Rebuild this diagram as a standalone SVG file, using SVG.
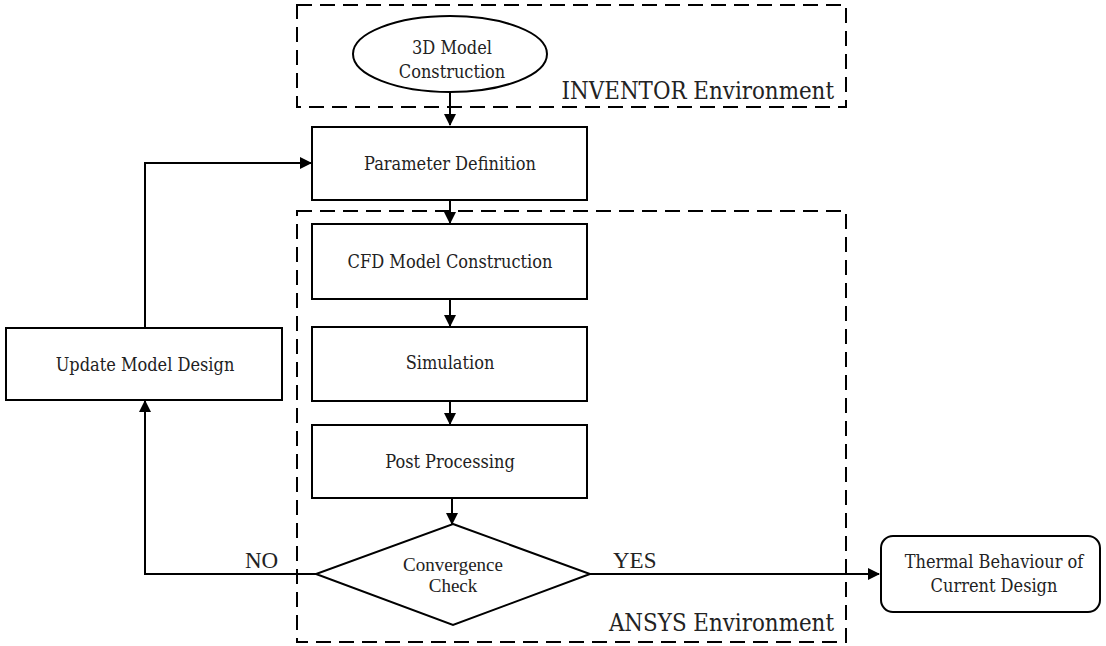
<svg xmlns="http://www.w3.org/2000/svg" width="1106" height="646" viewBox="0 0 1106 646">
<style>
.box{fill:#fff;stroke:#000;stroke-width:2}
.env{fill:none;stroke:#000;stroke-width:2;stroke-dasharray:15 8}
.lbl{font-family:"DejaVu Serif Condensed","DejaVu Serif",serif;font-size:18px;fill:#222;text-anchor:middle}
.cv{font-family:"Liberation Serif",serif;font-size:19px;fill:#222;text-anchor:middle}
.big{font-family:"DejaVu Serif Condensed","DejaVu Serif",serif;font-size:23.8px;fill:#222;text-anchor:end}
.yn{font-family:"Liberation Serif",serif;font-size:23px;fill:#222}
.cn{fill:none;stroke:#000;stroke-width:2}
</style>
<defs>
<marker id="ah" markerWidth="12" markerHeight="12" refX="11" refY="6" orient="auto" markerUnits="userSpaceOnUse">
<path d="M0,0 L12,6 L0,12 Z" fill="#000"/>
</marker>
</defs>
<rect width="1106" height="646" fill="#fff"/>
<g id="env-inventor">
<rect class="env" x="297" y="5" width="549" height="102"/>
<text class="big" x="834" y="99">INVENTOR Environment</text>
</g>
<g id="env-ansys">
<rect class="env" x="297" y="211" width="549" height="431"/>
<text class="big" x="834" y="631">ANSYS Environment</text>
</g>
<g id="connectors">
<line class="cn" x1="450" y1="92" x2="450" y2="125" marker-end="url(#ah)"/>
<line class="cn" x1="450" y1="200" x2="450" y2="223" marker-end="url(#ah)"/>
<line class="cn" x1="450" y1="299" x2="450" y2="326" marker-end="url(#ah)"/>
<line class="cn" x1="450" y1="401" x2="450" y2="424" marker-end="url(#ah)"/>
<line class="cn" x1="452" y1="498" x2="452" y2="524" marker-end="url(#ah)"/>
<polyline class="cn" points="145,328 145,163 311,163" marker-end="url(#ah)"/>
<polyline class="cn" points="316,574 145,574 145,401" marker-end="url(#ah)"/>
<line class="cn" x1="590" y1="574" x2="879" y2="574" marker-end="url(#ah)"/>
<text class="yn" x="245" y="568">NO</text>
<text class="yn" x="613" y="568">YES</text>
</g>
<g id="n-3d">
<ellipse class="box" cx="450" cy="54" rx="97" ry="38"/>
<text class="lbl" x="452" y="54">3D Model</text>
<text class="lbl" x="452" y="78">Construction</text>
</g>
<g id="n-param">
<rect class="box" x="312" y="127" width="275" height="73"/>
<text class="lbl" x="450" y="170">Parameter Definition</text>
</g>
<g id="n-cfd">
<rect class="box" x="312" y="224" width="275" height="75"/>
<text class="lbl" x="450" y="268">CFD Model Construction</text>
</g>
<g id="n-sim">
<rect class="box" x="312" y="327" width="275" height="74"/>
<text class="lbl" x="450" y="369">Simulation</text>
</g>
<g id="n-post">
<rect class="box" x="312" y="425" width="275" height="73"/>
<text class="lbl" x="450" y="468">Post Processing</text>
</g>
<g id="n-conv">
<polygon class="box" points="453,524 590,574 453,625 316,574"/>
<text class="cv" x="453" y="571">Convergence</text>
<text class="cv" x="453" y="592">Check</text>
</g>
<g id="n-update">
<rect class="box" x="6" y="328" width="276" height="72"/>
<text class="lbl" x="145" y="371">Update Model Design</text>
</g>
<g id="n-thermal">
<rect class="box" x="881" y="536" width="219" height="76" rx="12"/>
<text class="lbl" x="994" y="568">Thermal Behaviour of</text>
<text class="lbl" x="994" y="592">Current Design</text>
</g>
</svg>
